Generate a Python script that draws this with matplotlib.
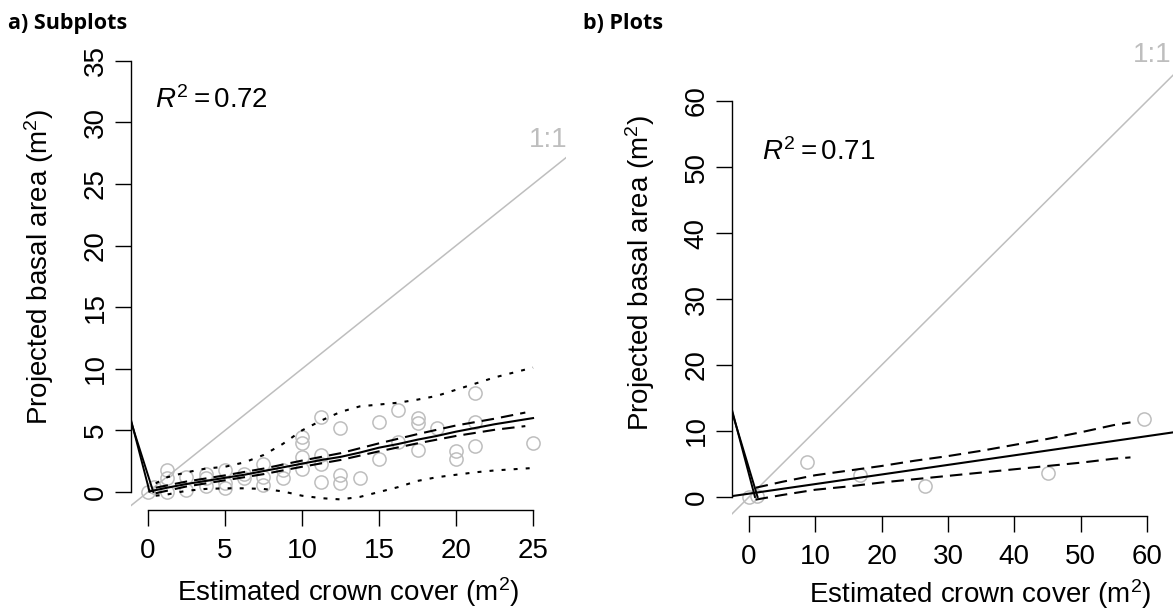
import matplotlib
matplotlib.use("Agg")
import matplotlib.pyplot as plt

plt.rcParams["font.family"] = ["Liberation Sans", "DejaVu Sans"]
plt.rcParams["mathtext.fontset"] = "custom"
plt.rcParams["mathtext.rm"] = "Liberation Sans"
plt.rcParams["mathtext.it"] = "Liberation Sans:italic"

GREY = "#bebebe"

# ---- a) Subplots ----
sub_x = [0, 0.4, 1.25, 1.25, 1.25, 2.5, 2.5, 3.75, 3.75, 3.75, 5, 5, 5, 6.25, 6.25,
         7.5, 7.5, 7.5, 8.75, 8.75, 10, 10, 10, 10, 11.25, 11.25, 11.25, 11.25,
         12.5, 12.5, 12.5, 13.75, 15, 15, 16.25, 16.25, 17.5, 17.5, 17.5, 18.75,
         20, 20, 21.25, 21.25, 21.25, 25]
sub_y = [0, 0.4, 1.8, 1.1, 0.0, 1.25, 0.15, 1.5, 1.1, 0.5, 1.8, 0.7, 0.3, 1.5, 1.1,
         2.3, 1.25, 0.55, 1.8, 1.1, 4.5, 3.95, 2.85, 1.9, 6.1, 3.0, 2.3, 0.85,
         5.2, 1.4, 0.7, 1.1, 5.7, 2.65, 6.65, 4.1, 6.0, 5.6, 3.4, 5.2,
         3.3, 2.65, 8.0, 5.7, 3.7, 3.95]

sub_fit_x = [0.1, 1.25, 2.5, 3.75, 5, 6.25, 7.5, 8.75, 10, 11.25, 12.5, 13.75, 15,
             16.25, 17.5, 18.75, 20, 21.25, 22.5, 23.75, 25]
sub_fit_y = [0.05, 0.35, 0.65, 0.9, 1.15, 1.4, 1.7, 2.0, 2.3, 2.6, 2.85, 3.2, 3.6,
             3.9, 4.25, 4.55, 4.9, 5.2, 5.5, 5.75, 6.0]

sub_ci_x = [0.5, 2.5, 5, 7.5, 10, 12.5, 15, 17.5, 20, 22.5, 24.5]
sub_ci_hi = [0.35, 0.85, 1.35, 1.9, 2.55, 3.15, 3.95, 4.7, 5.4, 5.95, 6.45]
sub_ci_lo = [-0.1, 0.45, 0.95, 1.45, 2.05, 2.6, 3.3, 3.95, 4.55, 5.05, 5.35]

sub_pi_x = [0.5, 1.25, 2.5, 3.75, 5, 6.25, 7.5, 8.75, 10, 11.25, 12.5, 13.75, 15,
            16.25, 17.5, 18.75, 20, 21.25, 22.5, 23.75, 25]
sub_pi_hi = [0.7, 1.2, 1.6, 1.9, 2.05, 2.4, 3.0, 3.9, 5.0, 5.8, 6.5, 6.95, 7.1,
             7.25, 7.5, 7.8, 8.3, 8.8, 9.3, 9.7, 10.1]
sub_pi_lo = [-0.3, -0.2, 0.1, 0.25, 0.3, 0.3, 0.25, 0.05, -0.3, -0.5, -0.6, -0.4,
             0.0, 0.4, 0.9, 1.2, 1.4, 1.6, 1.75, 1.85, 1.95]

sub_spur1_x, sub_spur1_y = [-2, 0.1], [10.2, 0.05]
sub_spur2_x, sub_spur2_y = [-2, 0.35], [9.24, 0.0]

# ---- b) Plots ----
plot_x = [0, 1.2, 8.8, 16.7, 26.5, 45.1, 59.5]
plot_y = [0, 0.1, 5.35, 3.3, 1.7, 3.7, 11.8]

plot_fit_x = [-3, 75]
plot_fit_y = [0.07, 11.4]

plot_ci_x = [1, 5, 10, 15, 20, 25, 30, 35, 40, 45, 50, 55, 57.5]
plot_ci_hi = [1.4, 2.3, 3.3, 4.0, 4.7, 5.5, 6.2, 7.0, 7.9, 8.8, 9.8, 10.9, 11.3]
plot_ci_lo = [-0.4, 0.3, 1.1, 1.6, 2.2, 2.7, 3.2, 3.7, 4.2, 4.7, 5.2, 5.8, 6.0]

plot_spur1_x, plot_spur1_y = [-4, 1.3], [17.7, 0.0]
plot_spur2_x, plot_spur2_y = [-4, 0.9], [18.7, 0.0]

FS = 20


def style_axes(ax, xticks, yticks):
    for side in ("top", "right"):
        ax.spines[side].set_visible(False)
    for side in ("left", "bottom"):
        ax.spines[side].set_linewidth(1.0)
    ax.spines["left"].set_bounds(yticks[0], yticks[-1])
    ax.spines["bottom"].set_bounds(xticks[0], xticks[-1])
    ax.set_xticks(xticks)
    ax.set_yticks(yticks)
    ax.tick_params(direction="out", length=11.5, width=1.0, labelsize=FS)
    ax.tick_params(axis="x", pad=8.5)
    ax.tick_params(axis="y", pad=4.5, labelrotation=90)
    plt.setp(ax.get_yticklabels(), va="center")


def draw_panel(ax, px, py, fit_x, fit_y, ci_x, ci_hi, ci_lo, spurs):
    ax.axline((0, 0), slope=1, color=GREY, lw=1.1, zorder=1)
    ax.plot(px, py, "o", mfc="none", mec=GREY, ms=9.5, mew=1.1, zorder=2)
    for sx, sy in spurs:
        ax.plot(sx, sy, color="k", lw=1.4, zorder=3)
    ax.plot(fit_x, fit_y, color="k", lw=1.5, zorder=3)
    ax.plot(ci_x, ci_hi, color="k", lw=1.5, dashes=(6, 3.4), zorder=3)
    ax.plot(ci_x, ci_lo, color="k", lw=1.5, dashes=(6, 3.4), zorder=3)


fig = plt.figure(figsize=(11.73, 6.14), dpi=100)

ax_a = fig.add_axes([131 / 1173, (614 - 510) / 614, 435 / 1173, 486 / 614])
draw_panel(ax_a, sub_x, sub_y, sub_fit_x, sub_fit_y, sub_ci_x, sub_ci_hi, sub_ci_lo,
           [(sub_spur1_x, sub_spur1_y), (sub_spur2_x, sub_spur2_y)])
ax_a.plot(sub_pi_x, sub_pi_hi, color="k", lw=1.5, dashes=(1.9, 3.9), zorder=3)
ax_a.plot(sub_pi_x, sub_pi_lo, color="k", lw=1.5, dashes=(1.9, 3.9), zorder=3)
ax_a.set_xlim(-1.10, 27.14)
ax_a.set_ylim(-1.46, 37.99)
style_axes(ax_a, [0, 5, 10, 15, 20, 25], [0, 5, 10, 15, 20, 25, 30, 35])
ax_a.text(0.45, 31.2, r"$R^2 = 0.72$", fontsize=FS, ha="left", va="baseline")
ax_a.text(26, 28.6, "1:1", color=GREY, fontsize=FS, ha="center", va="center")
ax_a.set_xlabel(r"Estimated crown cover (m$^2$)", fontsize=FS)
ax_a.set_ylabel(r"Projected basal area (m$^2$)", fontsize=FS)
ax_a.xaxis.set_label_coords(0.5, -0.134)
ax_a.yaxis.set_label_coords(-0.172, 0.5)

ax_b = fig.add_axes([732 / 1173, (614 - 516) / 614, 496 / 1173, 486 / 614])
draw_panel(ax_b, plot_x, plot_y, plot_fit_x, plot_fit_y, plot_ci_x, plot_ci_hi, plot_ci_lo,
           [(plot_spur1_x, plot_spur1_y), (plot_spur2_x, plot_spur2_y)])
ax_b.set_xlim(-2.56, 72.2)
ax_b.set_ylim(-2.88, 70.76)
style_axes(ax_b, [0, 10, 20, 30, 40, 50, 60], [0, 10, 20, 30, 40, 50, 60])
ax_b.text(2.0, 51.0, r"$R^2 = 0.71$", fontsize=FS, ha="left", va="baseline")
ax_b.text(60.8, 67, "1:1", color=GREY, fontsize=FS, ha="center", va="center")
ax_b.set_xlabel(r"Estimated crown cover (m$^2$)", fontsize=FS)
ax_b.set_ylabel(r"Projected basal area (m$^2$)", fontsize=FS)
ax_b.xaxis.set_label_coords(0.5, -0.126)
ax_b.yaxis.set_label_coords(-0.151, 0.5)

fig.text(8 / 1173, 1 - 29 / 614, "a) Subplots", family="Open Sans", fontweight="bold",
         fontsize=15.5, va="baseline")
fig.text(583 / 1173, 1 - 29 / 614, "b) Plots", family="Open Sans", fontweight="bold",
         fontsize=15.5, va="baseline")

fig.savefig("out.png", dpi=100)
